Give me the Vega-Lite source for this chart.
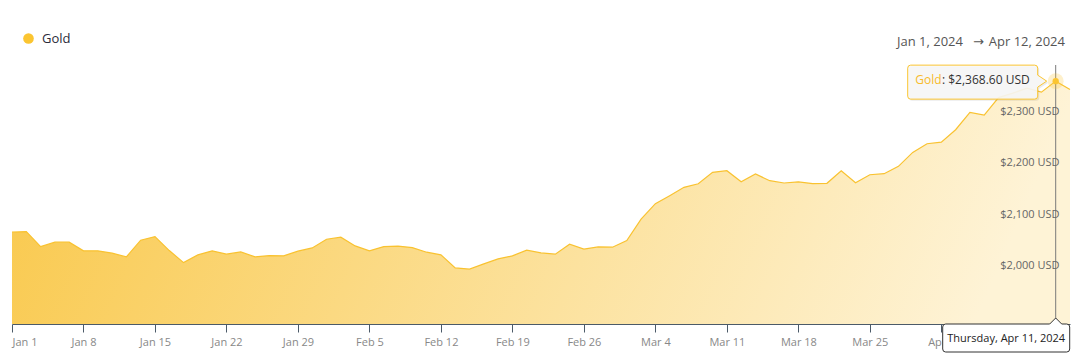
{
  "$schema": "https://vega.github.io/schema/vega-lite/v6.json",
  "width": 1058,
  "height": 259,
  "autosize": {"type": "none"},
  "padding": {"left": 12, "top": 65, "right": 7, "bottom": 33},
  "background": "white",
  "config": {"view": {"stroke": null}, "font": "Open Sans", "scale": {"pointPadding": 0}},
  "data": {
    "values": [
      {"date": "2024-01-01", "price": 2074.6},
      {"date": "2024-01-02", "price": 2075.8},
      {"date": "2024-01-03", "price": 2046.6},
      {"date": "2024-01-04", "price": 2055.2},
      {"date": "2024-01-05", "price": 2055.2},
      {"date": "2024-01-08", "price": 2038.3},
      {"date": "2024-01-09", "price": 2038.3},
      {"date": "2024-01-10", "price": 2033.8},
      {"date": "2024-01-11", "price": 2026.6},
      {"date": "2024-01-12", "price": 2059.1},
      {"date": "2024-01-15", "price": 2066.1},
      {"date": "2024-01-16", "price": 2038.9},
      {"date": "2024-01-17", "price": 2015.5},
      {"date": "2024-01-18", "price": 2030.5},
      {"date": "2024-01-19", "price": 2038.3},
      {"date": "2024-01-22", "price": 2031.9},
      {"date": "2024-01-23", "price": 2036.3},
      {"date": "2024-01-24", "price": 2026.6},
      {"date": "2024-01-25", "price": 2029.1},
      {"date": "2024-01-26", "price": 2028.6},
      {"date": "2024-01-29", "price": 2037.7},
      {"date": "2024-01-30", "price": 2044.1},
      {"date": "2024-01-31", "price": 2061.0},
      {"date": "2024-02-01", "price": 2064.9},
      {"date": "2024-02-02", "price": 2048.0},
      {"date": "2024-02-05", "price": 2038.3},
      {"date": "2024-02-06", "price": 2046.6},
      {"date": "2024-02-07", "price": 2047.4},
      {"date": "2024-02-08", "price": 2044.7},
      {"date": "2024-02-09", "price": 2035.7},
      {"date": "2024-02-12", "price": 2030.5},
      {"date": "2024-02-13", "price": 2005.2},
      {"date": "2024-02-14", "price": 2002.7},
      {"date": "2024-02-15", "price": 2013.0},
      {"date": "2024-02-16", "price": 2022.7},
      {"date": "2024-02-19", "price": 2028.6},
      {"date": "2024-02-20", "price": 2039.6},
      {"date": "2024-02-21", "price": 2034.4},
      {"date": "2024-02-22", "price": 2031.9},
      {"date": "2024-02-23", "price": 2051.3},
      {"date": "2024-02-26", "price": 2041.6},
      {"date": "2024-02-27", "price": 2046.0},
      {"date": "2024-02-28", "price": 2045.5},
      {"date": "2024-02-29", "price": 2058.3},
      {"date": "2024-03-01", "price": 2099.9},
      {"date": "2024-03-04", "price": 2130.2},
      {"date": "2024-03-05", "price": 2145.7},
      {"date": "2024-03-06", "price": 2162.0},
      {"date": "2024-03-07", "price": 2169.0},
      {"date": "2024-03-08", "price": 2191.2},
      {"date": "2024-03-11", "price": 2194.3},
      {"date": "2024-03-12", "price": 2172.9},
      {"date": "2024-03-13", "price": 2187.9},
      {"date": "2024-03-14", "price": 2174.9},
      {"date": "2024-03-15", "price": 2170.4},
      {"date": "2024-03-18", "price": 2172.7},
      {"date": "2024-03-19", "price": 2169.0},
      {"date": "2024-03-20", "price": 2169.8},
      {"date": "2024-03-21", "price": 2194.3},
      {"date": "2024-03-22", "price": 2171.0},
      {"date": "2024-03-25", "price": 2186.5},
      {"date": "2024-03-26", "price": 2188.5},
      {"date": "2024-03-27", "price": 2202.8},
      {"date": "2024-03-28", "price": 2230.0},
      {"date": "2024-03-29", "price": 2246.7},
      {"date": "2024-04-01", "price": 2250.0},
      {"date": "2024-04-02", "price": 2274.0},
      {"date": "2024-04-03", "price": 2307.8},
      {"date": "2024-04-04", "price": 2302.5},
      {"date": "2024-04-05", "price": 2336.5},
      {"date": "2024-04-08", "price": 2345.3},
      {"date": "2024-04-09", "price": 2355.0},
      {"date": "2024-04-10", "price": 2347.2},
      {"date": "2024-04-11", "price": 2368.6},
      {"date": "2024-04-12", "price": 2352.4}
    ]
  },
  "encoding": {
    "x": {
      "field": "date",
      "type": "ordinal",
      "scale": {"type": "point", "padding": 0},
      "axis": {
        "values": ["2024-01-01", "2024-01-08", "2024-01-15", "2024-01-22", "2024-01-29", "2024-02-05", "2024-02-12", "2024-02-19", "2024-02-26", "2024-03-04", "2024-03-11", "2024-03-18", "2024-03-25", "2024-04-01", "2024-04-08"],
        "labelExpr": "utcFormat(toDate(datum.value), '%b %-d')",
        "labelAngle": 0,
        "labelFlush": true,
        "title": null,
        "grid": false,
        "domainColor": "#4b5a68",
        "tickColor": "#4b5a68",
        "tickSize": 8,
        "labelColor": "#888888",
        "labelFontSize": 11,
        "labelPadding": 4,
        "zindex": 0
      }
    }
  },
  "layer": [
    {
      "mark": {
        "type": "area",
        "fill": {
          "gradient": "linear",
          "x1": 0, "y1": 0, "x2": 1, "y2": 0.1,
          "stops": [
            {"offset": 0, "color": "#f9c84a"},
            {"offset": 1, "color": "#fef3d6"}
          ]
        }
      },
      "encoding": {
        "y": {
          "field": "price",
          "type": "quantitative",
          "scale": {"domain": [1896, 2400], "zero": false, "nice": false},
          "axis": {
            "orient": "right",
            "values": [2000, 2100, 2200, 2300],
            "labelExpr": "'$' + format(datum.value, ',') + ' USD'",
            "domain": false,
            "ticks": false,
            "tickSize": 0,
            "grid": false,
            "labelAlign": "right",
            "labelBaseline": "middle",
            "labelPadding": -11,
            "labelOffset": -5,
            "labelFontSize": 11,
            "labelColor": "#666666",
            "title": null,
            "zindex": 1
          }
        },
        "y2": {"datum": 1896}
      }
    },
    {
      "mark": {"type": "line", "color": "#f9c230", "strokeWidth": 1.2},
      "encoding": {"y": {"field": "price", "type": "quantitative"}}
    },
    {
      "transform": [{"filter": "datum.date == '2024-04-11'"}],
      "mark": {"type": "rule", "color": "#7a7a7a", "strokeWidth": 1},
      "encoding": {}
    },
    {
      "transform": [{"filter": "datum.date == '2024-04-11'"}],
      "mark": {"type": "point", "filled": true, "size": 250, "opacity": 0.25, "color": "#fbc531"},
      "encoding": {"y": {"field": "price", "type": "quantitative"}}
    },
    {
      "transform": [{"filter": "datum.date == '2024-04-11'"}],
      "mark": {"type": "point", "filled": true, "size": 40, "opacity": 1},
      "encoding": {
        "y": {"field": "price", "type": "quantitative"},
        "color": {
          "datum": "Gold",
          "type": "nominal",
          "scale": {"range": ["#fbc531"]},
          "legend": {
            "orient": "none",
            "legendX": 10,
            "legendY": -33,
            "title": null,
            "padding": 0,
            "symbolType": "circle",
            "symbolSize": 113,
            "symbolStrokeWidth": 0,
            "symbolOpacity": 1,
            "labelFontSize": 13,
            "labelColor": "#2b2b3b",
            "labelOffset": 7
          }
        }
      }
    },
    {
      "transform": [{"filter": "datum.date == '2024-04-11'"}],
      "mark": {
        "type": "point",
        "filled": true,
        "size": 4,
        "opacity": 0.08,
        "color": "#000000",
        "shape": "M -143.5 -14.5 L -19.5 -14.5 Q -16.5 -14.5 -16.5 -11.5 L -16.5 -4.5 L -7.5 1.5 L -16.5 7.5 L -16.5 16.5 Q -16.5 19.5 -19.5 19.5 L -143.5 19.5 Q -146.5 19.5 -146.5 16.5 L -146.5 -11.5 Q -146.5 -14.5 -143.5 -14.5 Z"
      },
      "encoding": {"y": {"field": "price", "type": "quantitative"}}
    },
    {
      "transform": [{"filter": "datum.date == '2024-04-11'"}],
      "mark": {
        "type": "point",
        "filled": false,
        "size": 4,
        "fill": "#f7f7f7",
        "fillOpacity": 0.9,
        "stroke": "#fbc531",
        "strokeWidth": 1,
        "opacity": 1,
        "shape": "M -145 -16 L -21 -16 Q -18 -16 -18 -13 L -18 -6 L -9 0 L -18 6 L -18 15 Q -18 18 -21 18 L -145 18 Q -148 18 -148 15 L -148 -13 Q -148 -16 -145 -16 Z"
      },
      "encoding": {"y": {"field": "price", "type": "quantitative"}}
    },
    {
      "transform": [{"filter": "datum.date == '2024-04-11'"}],
      "mark": {"type": "text", "text": "Gold", "align": "left", "baseline": "middle", "dx": -140.5, "dy": -1, "fontSize": 12, "color": "#f7bb2b"},
      "encoding": {"y": {"field": "price", "type": "quantitative"}}
    },
    {
      "transform": [{"filter": "datum.date == '2024-04-11'"}],
      "mark": {"type": "text", "text": {"expr": "': ' + format(datum.price, '$,.2f') + ' USD'"}, "align": "right", "baseline": "middle", "dx": -26, "dy": -1, "fontSize": 12, "color": "#333333"},
      "encoding": {"y": {"field": "price", "type": "quantitative"}}
    },
    {
      "transform": [{"filter": "datum.date == '2024-04-11'"}],
      "mark": {
        "type": "point",
        "filled": false,
        "size": 4,
        "fill": "#ffffff",
        "fillOpacity": 1,
        "stroke": "#333333",
        "strokeWidth": 1,
        "opacity": 1,
        "shape": "M -110 0 L -6 0 L 0 -6 L 6 0 L 11 0 Q 14 0 14 3 L 14 25 Q 14 28 11 28 L -110 28 Q -113 28 -113 25 L -113 3 Q -113 0 -110 0 Z"
      },
      "encoding": {"y": {"datum": 1896, "type": "quantitative"}}
    },
    {
      "transform": [{"filter": "datum.date == '2024-04-11'"}],
      "mark": {"type": "text", "text": {"expr": "utcFormat(toDate(datum.date), '%A, %b %-d, %Y')"}, "align": "center", "baseline": "middle", "dx": -49.5, "dy": 15, "fontSize": 11, "color": "#222222"},
      "encoding": {"y": {"datum": 1896, "type": "quantitative"}}
    },
    {
      "transform": [{"filter": "datum.date == '2024-04-12'"}],
      "mark": {"type": "text", "text": "Apr 12, 2024", "align": "right", "baseline": "middle", "dx": -5, "dy": -23, "fontSize": 13, "color": "#555555"},
      "encoding": {"y": {"datum": 2400, "type": "quantitative"}}
    },
    {
      "transform": [{"filter": "datum.date == '2024-04-12'"}],
      "mark": {"type": "text", "text": "→", "font": "DejaVu Sans", "align": "center", "baseline": "middle", "dx": -91.5, "dy": -23, "fontSize": 13, "color": "#555555"},
      "encoding": {"y": {"datum": 2400, "type": "quantitative"}}
    },
    {
      "transform": [{"filter": "datum.date == '2024-04-12'"}],
      "mark": {"type": "text", "text": "Jan 1, 2024", "align": "right", "baseline": "middle", "dx": -107, "dy": -23, "fontSize": 13, "color": "#555555"},
      "encoding": {"y": {"datum": 2400, "type": "quantitative"}}
    }
  ]
}
